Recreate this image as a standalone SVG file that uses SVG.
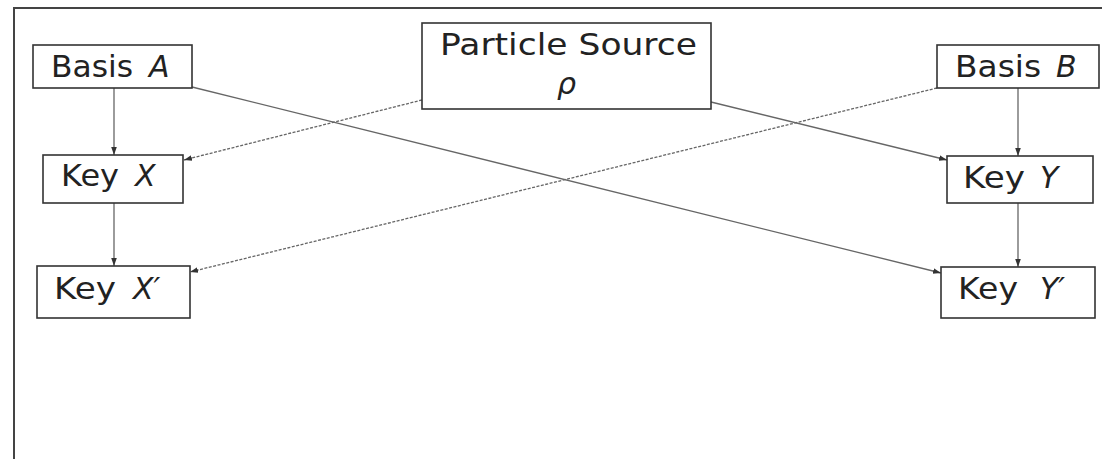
<svg xmlns="http://www.w3.org/2000/svg" width="1102" height="459" viewBox="0 0 1102 459">
<defs>
<marker id="ah" viewBox="0 0 10 10" refX="10" refY="5" markerWidth="8" markerHeight="8" markerUnits="userSpaceOnUse" orient="auto">
<path d="M0,1.5 L10,5 L0,8.5 z" fill="#333"/>
</marker>
<style>
.box{fill:#fff;stroke:#333;stroke-width:1.6}
.t{font-family:"DejaVu Sans",sans-serif;font-size:30px;fill:#222}
.m{font-style:italic}
.c{fill:none;stroke:#666;stroke-width:1.3;marker-end:url(#ah)}
.d{stroke-dasharray:3 1.5}
.frame{fill:none;stroke:#444;stroke-width:2}
</style>
</defs>
<rect width="1102" height="459" fill="#fff"/>
<path class="frame" d="M14,459 L14,8 L1102,8"/>
<g id="connectors">
<line class="c" x1="114" y1="88" x2="114" y2="155"/>
<line class="c" x1="114" y1="203" x2="114" y2="266"/>
<line class="c" x1="1018" y1="88" x2="1018" y2="156"/>
<line class="c" x1="1018" y1="203" x2="1018" y2="267"/>
<line class="c" x1="192" y1="87" x2="941" y2="273"/>
<line class="c d" x1="422" y1="100" x2="184" y2="160"/>
<line class="c" x1="711" y1="102" x2="947" y2="160"/>
<line class="c d" x1="937" y1="88" x2="190" y2="272"/>
</g>
<g id="basisA">
<rect class="box" x="33" y="45" width="159" height="43"/>
<text class="t" y="77"><tspan x="51" textLength="82" lengthAdjust="spacingAndGlyphs">Basis</tspan><tspan class="m" x="149">A</tspan></text>
</g>
<g id="source">
<rect class="box" x="422" y="23" width="289" height="86"/>
<text class="t" x="440" y="55" textLength="257" lengthAdjust="spacingAndGlyphs">Particle Source</text>
<text class="t m" x="566.5" y="94" text-anchor="middle">ρ</text>
</g>
<g id="basisB">
<rect class="box" x="937" y="45" width="162" height="43"/>
<text class="t" y="77"><tspan x="955" textLength="86" lengthAdjust="spacingAndGlyphs">Basis</tspan><tspan class="m" x="1056">B</tspan></text>
</g>
<g id="keyX">
<rect class="box" x="43" y="155" width="140" height="48"/>
<text class="t" y="186"><tspan x="61" textLength="58" lengthAdjust="spacingAndGlyphs">Key</tspan><tspan class="m" x="135">X</tspan></text>
</g>
<g id="keyX2">
<rect class="box" x="37" y="266" width="153" height="52"/>
<text class="t" y="299"><tspan x="54" textLength="62" lengthAdjust="spacingAndGlyphs">Key</tspan><tspan class="m" x="133">X′</tspan></text>
</g>
<g id="keyY">
<rect class="box" x="947" y="156" width="146" height="47"/>
<text class="t" y="188"><tspan x="963" textLength="62" lengthAdjust="spacingAndGlyphs">Key</tspan><tspan class="m" x="1040">Y</tspan></text>
</g>
<g id="keyY2">
<rect class="box" x="941" y="267" width="154" height="51"/>
<text class="t" y="299"><tspan x="958" textLength="60" lengthAdjust="spacingAndGlyphs">Key</tspan><tspan class="m" x="1040">Y′</tspan></text>
</g>
</svg>
